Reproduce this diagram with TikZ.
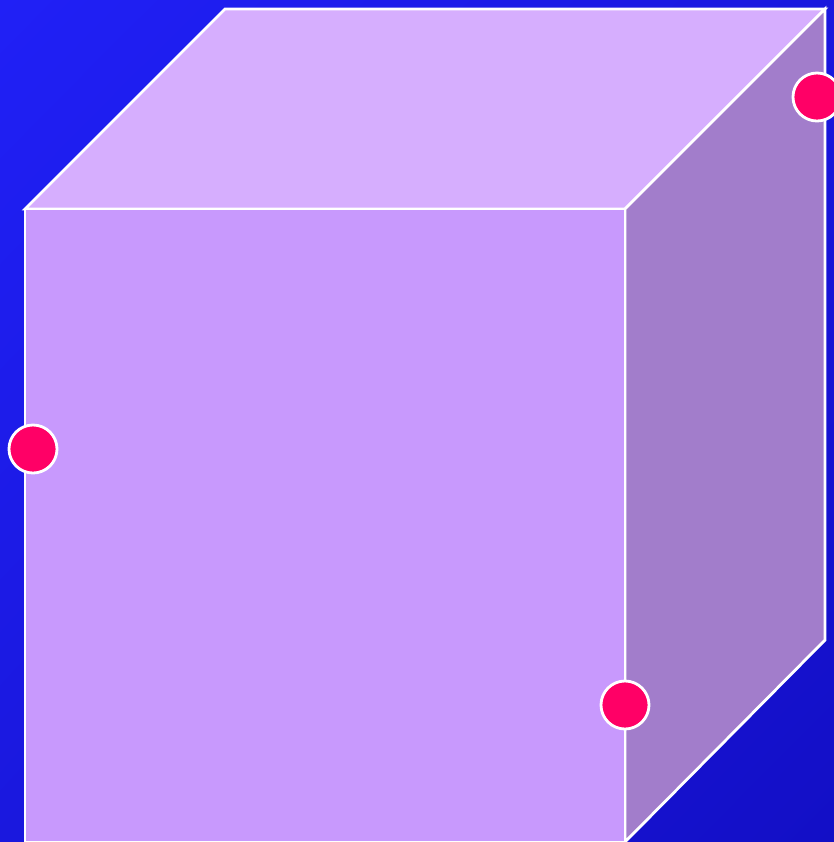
\documentclass[tikz,border=0pt]{standalone}
\usetikzlibrary{positioning, shadings}

\definecolor{bgtl}{HTML}{2020F6}
\definecolor{bgbr}{HTML}{130FC6}
\definecolor{bgmid}{HTML}{1A18DE}
\definecolor{facefront}{HTML}{C899FD}
\definecolor{facetop}{HTML}{D6AEFE}
\definecolor{faceside}{HTML}{A27DCB}
\definecolor{dotred}{HTML}{FF0066}

\begin{document}
\begin{tikzpicture}[
    x=0.01cm, y=-0.01cm,
    face/.style={draw=white, line width=0.8pt, line join=miter},
    pdot/.style={circle, draw=white, line width=0.8pt, fill=dotred,
                 minimum size=0.48cm, inner sep=0pt}
]

% ---- Background ----
\useasboundingbox (0,0) rectangle (834,842);
\shade[upper left=bgtl, upper right=bgmid, lower left=bgmid, lower right=bgbr]
    (0,0) rectangle (834,842);

% ---- Cube corners ----
\coordinate (ftl) at (25,209);
\coordinate (ftr) at (625,209);
\coordinate (fbl) at (25,842);
\coordinate (fbr) at (625,842);
\coordinate (btl) at (225,9);
\coordinate (btr) at (825,9);
\coordinate (bbr) at (825,640);

% ---- Faces ----
\begin{scope}
\clip (0,0) rectangle (834,842);
\filldraw[face, fill=facetop] (ftl) -- (btl) -- (btr) -- (ftr) -- cycle;
\filldraw[face, fill=faceside] (ftr) -- (btr) -- (bbr) -- (fbr) -- cycle;
\filldraw[face, fill=facefront] (fbl) -- (ftl) -- (ftr) -- (fbr) -- cycle;
\end{scope}

% ---- Points ----
\node[pdot] (pleft) at (33,449) {};
\node[pdot] (pback) at (817,97) {};
\node[pdot] (pfront) at (625,705) {};

\end{tikzpicture}
\end{document}
